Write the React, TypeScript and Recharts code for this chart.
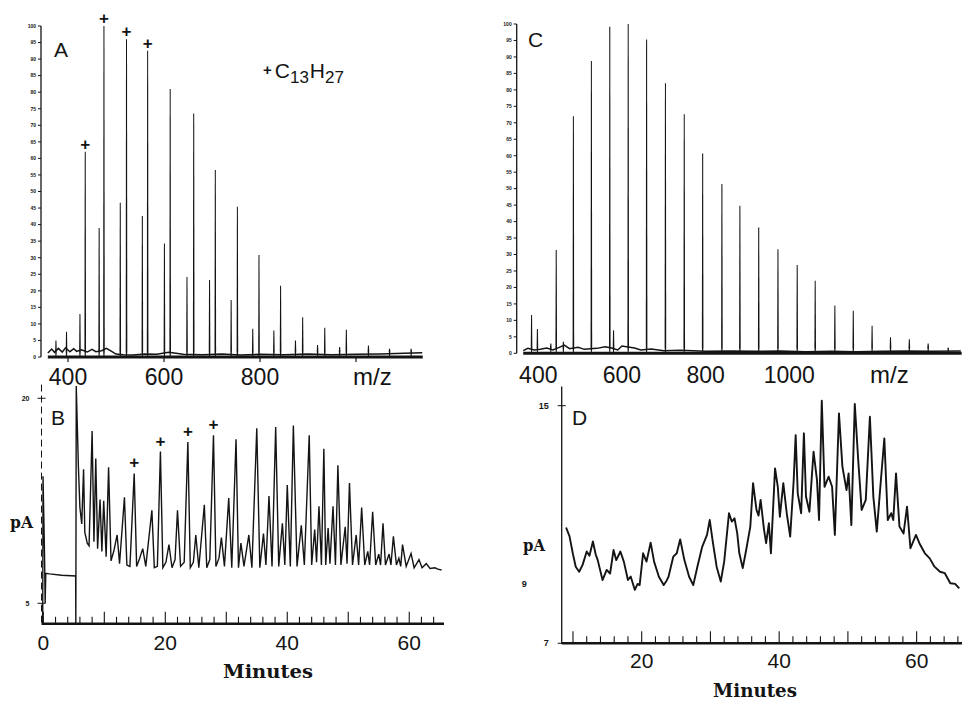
import React from "react";
import { ComposedChart, LineChart, Line, Bar, XAxis, YAxis, ReferenceLine, LabelList } from "recharts";

const INK = "#141414";
const SANS = "'Liberation Sans', Arial, sans-serif";
const SLAB = "'DejaVu Serif', serif";

// panel A: mass spectrum, m/z vs relative intensity (%)
const peaksAMz = [375, 397, 425, 436, 465, 475, 509, 522, 555, 566, 601, 613, 648, 662, 695, 707, 740, 753, 785, 798, 829, 843, 874, 889, 920, 935, 966, 980, 1026, 1070, 1115];
const peaksAInt = [5, 7.6, 13, 62, 39, 100, 46.6, 96, 42.6, 92.5, 34.3, 81, 24.2, 73.6, 23.3, 56.5, 17.2, 45.4, 8.5, 30.8, 8, 21.5, 5, 12, 3.6, 8.8, 3, 8.2, 3.5, 2.5, 2.5];
const markedAMz = [436, 475, 522, 566];
const noiseAMz = [358, 366, 372, 380, 388, 395, 404, 412, 418, 428, 440, 450, 458, 470, 480, 490, 500, 515, 535, 560, 585, 610, 640, 680, 720, 760, 800, 850, 900, 950, 1000, 1050, 1100, 1138];
const noiseAInt = [1.2, 2.4, 1.4, 2.6, 1.5, 2.8, 1.6, 2.5, 1.7, 2.2, 1.5, 2.3, 1.6, 1.9, 2.6, 1.8, 0.9, 0.7, 0.6, 0.9, 0.8, 1.4, 0.8, 0.7, 0.9, 0.6, 0.8, 0.7, 0.9, 0.7, 0.8, 0.9, 1.1, 1.3];

// panel C: mass spectrum
const peaksCMz = [384, 398, 430, 443, 460, 484, 527, 571, 580, 615, 659, 704, 749, 793, 839, 882, 927, 973, 1019, 1062, 1109, 1153, 1198, 1242, 1287, 1332, 1380];
const peaksCInt = [11.6, 7.4, 3, 31.4, 3.5, 72, 88.8, 99.2, 7, 100, 95.3, 82, 72.6, 60.7, 51.4, 44.8, 38.2, 31.6, 26.8, 22, 14.5, 12.9, 8.4, 4.9, 4.3, 3, 1.7];
const noiseCMz = [364, 375, 390, 405, 420, 435, 450, 462, 475, 495, 510, 540, 560, 575, 590, 600, 630, 645, 670, 700, 740, 800, 860, 920, 980, 1040, 1100, 1160, 1220, 1280, 1340, 1410];
const noiseCInt = [0.8, 1.5, 1.0, 1.2, 1.6, 1.0, 1.8, 2.5, 1.4, 1.8, 1.2, 1.5, 2.0, 1.6, 1.0, 2.2, 1.6, 1.0, 1.3, 0.8, 0.9, 0.6, 0.7, 0.6, 0.7, 0.5, 0.6, 0.5, 0.6, 0.7, 0.6, 0.7];

// panel B: chromatogram [minutes, pA]
const traceB: [number, number][] = [
  [-0.1, 3.55], [-0.05, 14.3], [0.2, 8.5], [0.3, 5.0], [0.4, 7.2], [1, 7.15], [3, 7.05], [5.3, 7.0], [5.33, 3.55],
  [5.4, 20.9], [5.75, 15], [6.0, 12.0], [6.3, 10.8], [6.6, 14.8], [6.8, 10.2], [7.2, 9.4], [7.5, 9.2], [8.0, 17.6],
  [8.3, 9.5], [8.6, 15.6], [8.9, 9.0], [9.3, 12.6], [9.6, 8.8], [9.9, 12.5], [10.3, 8.4], [10.7, 14.95], [11.1, 8.1],
  [11.6, 8.9], [12.1, 10.0], [12.5, 7.9], [13.3, 12.75], [13.7, 7.8], [14.2, 7.7], [14.9, 14.5], [15.3, 7.7],
  [15.8, 8.3], [16.3, 9.0], [16.8, 7.7], [17.8, 11.8], [18.2, 7.6], [18.7, 7.7], [19.2, 16.1], [19.6, 7.6],
  [20.1, 8.0], [20.6, 9.3], [21.1, 7.6], [21.6, 8.2], [22.0, 11.8], [22.5, 7.7], [23.1, 8.0], [23.7, 16.8],
  [24.1, 7.6], [24.6, 8.0], [25.0, 10.0], [25.5, 7.6], [26.4, 12.2], [26.8, 7.6], [27.3, 8.2], [27.9, 17.3],
  [28.3, 7.7], [28.8, 8.3], [29.2, 9.8], [29.7, 7.7], [30.4, 12.7], [30.9, 7.6], [31.6, 17.0], [32.0, 7.6],
  [32.4, 9.4], [32.9, 7.7], [33.7, 10.0], [34.2, 7.6], [35.0, 17.8], [35.5, 7.6], [36.1, 10.1], [36.5, 7.8],
  [37.0, 12.85], [37.5, 7.7], [38.1, 17.9], [38.6, 7.7], [39.2, 10.85], [39.6, 7.8], [40.0, 13.65], [40.5, 7.7],
  [41.0, 18.0], [41.6, 7.7], [42.3, 10.7], [42.8, 7.8], [43.6, 17.3], [44.0, 7.8], [44.5, 10.4], [44.8, 8.0],
  [45.2, 12.1], [45.6, 7.8], [46.0, 16.3], [46.3, 7.8], [46.7, 10.5], [47.0, 7.9], [47.5, 12.1], [47.9, 7.8],
  [48.3, 15.1], [48.8, 7.8], [49.5, 10.6], [49.8, 7.9], [50.2, 13.8], [50.7, 7.8], [51.3, 10.0], [51.7, 7.8],
  [52.2, 12.0], [52.7, 7.8], [53.2, 8.8], [53.5, 7.8], [54.0, 11.7], [54.5, 7.8], [55.0, 8.6], [55.3, 7.8],
  [55.7, 10.85], [56.1, 7.8], [56.7, 8.6], [57.0, 7.8], [57.4, 9.9], [57.9, 7.8], [58.3, 8.3], [58.6, 7.7],
  [58.9, 9.3], [59.5, 7.7], [60.3, 8.65], [60.8, 7.6], [61.6, 8.2], [62.1, 7.6], [62.8, 7.9], [63.4, 7.55],
  [64.2, 7.6], [64.7, 7.5], [65.3, 7.44],
];
const markedBMin = [14.9, 19.2, 23.7, 27.9];

// panel D: chromatogram [minutes, pA]
const traceD: [number, number][] = [
  [9.0, 10.9], [9.5, 10.6], [10.0, 10.0], [10.4, 9.58], [10.9, 9.41], [11.4, 9.64], [12.0, 10.09], [12.4, 9.95],
  [12.9, 10.43], [13.3, 10.0], [13.6, 9.8], [14.3, 9.13], [14.9, 9.47], [15.4, 9.35], [15.9, 10.14], [16.3, 9.8],
  [16.9, 10.09], [17.4, 9.75], [18.0, 9.13], [18.4, 9.25], [18.7, 9.02], [19.0, 8.8], [19.4, 9.0], [19.7, 8.96],
  [20.2, 10.03], [20.7, 9.75], [21.3, 10.39], [21.8, 9.75], [22.5, 9.24], [23.2, 8.96], [23.6, 9.1], [23.9, 9.24],
  [24.6, 9.92], [25.1, 10.03], [25.6, 10.5], [26.2, 9.81], [26.9, 9.24], [27.5, 8.96], [28.1, 9.58], [28.8, 10.25],
  [29.5, 10.65], [29.9, 11.15], [30.3, 10.48], [30.9, 9.58], [31.5, 9.08], [32.0, 9.75], [32.7, 11.38], [33.1, 11.1],
  [33.5, 11.21], [33.9, 10.7], [34.2, 10.03], [34.7, 9.53], [35.2, 10.14], [35.8, 10.93], [36.2, 12.39], [36.7, 11.49],
  [37.0, 11.3], [37.3, 11.83], [37.8, 10.82], [38.1, 10.37], [38.5, 11.04], [38.8, 10.03], [39.4, 12.89], [39.8, 12.27],
  [40.1, 11.26], [40.6, 12.39], [41.1, 11.38], [41.6, 10.59], [42.1, 12.44], [42.4, 14.01], [42.7, 12.05], [43.2, 11.38],
  [43.6, 14.07], [43.9, 11.94], [44.4, 11.43], [45.0, 13.45], [45.5, 12.5], [45.8, 11.15], [46.2, 15.17], [46.6, 12.27],
  [47.2, 12.61], [47.7, 12.27], [48.1, 10.65], [48.7, 14.74], [49.2, 12.95], [49.8, 12.16], [50.1, 12.72], [50.5, 10.98],
  [51.0, 15.06], [51.5, 13.17], [52.0, 11.49], [52.6, 11.83], [53.2, 14.63], [53.7, 11.94], [54.2, 10.76], [54.8, 12.5],
  [55.3, 13.9], [55.8, 11.15], [56.3, 11.38], [56.6, 11.15], [57.0, 12.72], [57.5, 10.93], [58.1, 10.7], [58.6, 11.6],
  [59.1, 10.2], [59.9, 10.65], [60.4, 10.37], [61.2, 10.03], [61.9, 9.86], [62.6, 9.58], [63.4, 9.41], [64.1, 9.36],
  [64.9, 9.02], [65.6, 9.0], [66.2, 8.85],
];

// axis ticks
const relTicks = [0, 5, 10, 15, 20, 25, 30, 35, 40, 45, 50, 55, 60, 65, 70, 75, 80, 85, 90, 95, 100];
const mzTicks = [400, 600, 800, 1000];
const mzLabelsA = [400, 600, 800];
const mzLabelsC = [400, 600, 800, 1000];
const minuteTicksB = [0, 2, 4, 6, 8, 10, 12, 14, 16, 18, 20, 22, 24, 26, 28, 30, 32, 34, 36, 38, 40, 42, 44, 46, 48, 50, 52, 54, 56, 58, 60, 62, 64];
const minuteTicksD = [10, 12, 14, 16, 18, 20, 22, 24, 26, 28, 30, 32, 34, 36, 38, 40, 42, 44, 46, 48, 50, 52, 54, 56, 58, 60, 62, 64, 66];
const minuteLabels = [0, 20, 40, 60];
const pATicksB = [5, 20];
const pATicksD = [7, 9, 15];

const spectrumA = peaksAMz.map((mz, i) => ({ mz, rel: peaksAInt[i], mark: markedAMz.includes(mz) ? "+" : "" }));
const noiseA = noiseAMz.map((mz, i) => ({ mz, rel: noiseAInt[i] }));
const spectrumC = peaksCMz.map((mz, i) => ({ mz, rel: peaksCInt[i] }));
const noiseC = noiseCMz.map((mz, i) => ({ mz, rel: noiseCInt[i] }));
const chromB = traceB.map(([min, pA]) => ({ min, pA, mark: markedBMin.includes(min) ? "+" : "" }));
const chromD = traceD.map(([min, pA]) => ({ min, pA }));

// axis widths are 1px so the margins set the plot box
const AX = 1;

function Spike(props: any) {
  const { x, y, width, height } = props;
  if (!height || height <= 0) return <g />;
  const cx = x + width / 2;
  const base = y + height;
  const foot = Math.min(6, height);
  const d = `M${cx - width / 2},${base} L${cx - 0.8},${base - foot} L${cx - 0.5},${y} L${cx + 0.5},${y} L${cx + 0.8},${base - foot} L${cx + width / 2},${base} Z`;
  return <path d={d} fill={INK} />;
}

function RelTick({ x, y, payload }: any) {
  return (
    <g>
      <line x1={x - 3} x2={x} y1={y} y2={y} stroke={INK} strokeWidth={1} />
      <text x={x - 5} y={y + 1.8} textAnchor="end" fontFamily={SANS} fontWeight={700} fontSize={5} fill={INK}>
        {payload.value}
      </text>
    </g>
  );
}

function MzTick({ x, y, payload, labels, tickLen, dy }: any) {
  return (
    <g>
      {tickLen > 0 && <line x1={x} x2={x} y1={y} y2={y + tickLen} stroke={INK} strokeWidth={1.2} />}
      {labels.includes(payload.value) && (
        <text x={x} y={y + dy} textAnchor="middle" fontFamily={SANS} fontSize={23} fill={INK}>
          {payload.value}
        </text>
      )}
    </g>
  );
}

function MinuteTick({ x, y, payload, dy }: any) {
  const v = payload.value;
  const major = v % 10 === 0;
  return (
    <g>
      <line x1={x} x2={x} y1={y} y2={y - (major ? 12 : 7)} stroke={INK} strokeWidth={1.1} />
      {minuteLabels.includes(v) && (
        <text x={x} y={y + dy} textAnchor="middle" fontFamily={SANS} fontSize={21} fill={INK}>
          {v}
        </text>
      )}
    </g>
  );
}

function PaTick({ x, y, payload, size, gap }: any) {
  const v = payload.value;
  const stray = v === 9;
  return (
    <g>
      {!stray && <line x1={x - 4} x2={x + 4} y1={y} y2={y} stroke={INK} strokeWidth={1} />}
      <text x={stray ? x - 35 : x - gap} y={y + size * 0.35} textAnchor="end" fontFamily={SANS} fontWeight={700} fontSize={size} fill={INK}>
        {v}
      </text>
    </g>
  );
}

export default function App() {
  return (
    <div style={{ position: "relative", width: 962, height: 701, background: "#fff", overflow: "hidden" }}>
      <style>{"body{margin:0}"}</style>

      {/* A */}
      <div style={{ position: "absolute", left: 0, top: 0 }}>
        <ComposedChart width={440} height={395} data={spectrumA} margin={{ top: 26, right: 17, bottom: 38 - AX, left: 41 - AX }}>
          <XAxis dataKey="mz" type="number" domain={[343.75, 1139.6]} ticks={mzTicks} interval={0} height={AX}
            tickSize={0} tickMargin={0} axisLine={false} tickLine={false}
            tick={(p: any) => <MzTick {...p} labels={mzLabelsA} tickLen={5} dy={28} />} />
          <YAxis type="number" domain={[0, 100]} ticks={relTicks} interval={0} width={AX} tickSize={0} tickMargin={0}
            axisLine={{ stroke: INK, strokeWidth: 1.3 }} tickLine={false} tick={RelTick} />
          <ReferenceLine segment={[{ x: 358, y: 0 }, { x: 1139, y: 0 }]} stroke={INK} strokeWidth={3} />
          <Bar dataKey="rel" barSize={4} shape={Spike} isAnimationActive={false}>
            <LabelList dataKey="mark" position="top" offset={2} fill={INK} fontSize={17} fontWeight={700} fontFamily={SANS} />
          </Bar>
          <Line data={noiseA} dataKey="rel" type="linear" stroke={INK} strokeWidth={1.5} dot={false} isAnimationActive={false} />
        </ComposedChart>
      </div>

      {/* C */}
      <div style={{ position: "absolute", left: 480, top: 0 }}>
        <ComposedChart width={482} height={395} data={spectrumC} margin={{ top: 24, right: 0, bottom: 41.7 - AX, left: 36.7 - AX }}>
          <XAxis dataKey="mz" type="number" domain={[348.4, 1412.8]} ticks={mzTicks} interval={0} height={AX}
            tickSize={0} tickMargin={0} axisLine={false} tickLine={false}
            tick={(p: any) => <MzTick {...p} labels={mzLabelsC} tickLen={0} dy={30} />} />
          <YAxis type="number" domain={[0, 100]} ticks={relTicks} interval={0} width={AX} tickSize={0} tickMargin={0}
            axisLine={{ stroke: INK, strokeWidth: 1.3 }} tickLine={false} tick={RelTick} />
          <ReferenceLine segment={[{ x: 364, y: 0 }, { x: 1412, y: 0 }]} stroke={INK} strokeWidth={3} />
          <Bar dataKey="rel" barSize={4} shape={Spike} isAnimationActive={false} />
          <Line data={noiseC} dataKey="rel" type="linear" stroke={INK} strokeWidth={1.5} dot={false} isAnimationActive={false} />
        </ComposedChart>
      </div>

      {/* B */}
      <div style={{ position: "absolute", left: 0, top: 380 }}>
        <LineChart width={460} height={321} data={chromB} margin={{ top: 4.6, right: 16, bottom: 77.2 - AX, left: 41.5 - AX }}>
          <XAxis dataKey="min" type="number" domain={[-0.3, 65.7]} ticks={minuteTicksB} interval={0} height={AX}
            tickSize={0} tickMargin={0} axisLine={{ stroke: INK, strokeWidth: 2.6 }} tickLine={false}
            tick={(p: any) => <MinuteTick {...p} dy={26} />} />
          <YAxis type="number" domain={[3.5, 21]} ticks={pATicksB} interval={0} width={AX} tickSize={0} tickMargin={0}
            axisLine={{ stroke: INK, strokeWidth: 1, strokeDasharray: "7 4" }} tickLine={false}
            tick={(p: any) => <PaTick {...p} size={7} gap={12} />} />
          <Line dataKey="pA" type="linear" stroke={INK} strokeWidth={1.4} dot={false} isAnimationActive={false}>
            <LabelList dataKey="mark" position="top" offset={5} fill={INK} fontSize={17} fontWeight={700} fontFamily={SANS} />
          </Line>
        </LineChart>
      </div>

      {/* D */}
      <div style={{ position: "absolute", left: 480, top: 380 }}>
        <LineChart width={482} height={321} data={chromD} margin={{ top: 6.4, right: 0, bottom: 57.7 - AX, left: 81.7 - AX }}>
          <XAxis dataKey="min" type="number" domain={[8.36, 66.6]} ticks={minuteTicksD} interval={0} height={AX}
            tickSize={0} tickMargin={0} axisLine={{ stroke: INK, strokeWidth: 2.6 }} tickLine={false}
            tick={(p: any) => <MinuteTick {...p} dy={25} />} />
          <YAxis type="number" domain={[7, 15.65]} ticks={pATicksD} interval={0} width={AX} tickSize={0} tickMargin={0}
            axisLine={{ stroke: INK, strokeWidth: 1.3 }} tickLine={false}
            tick={(p: any) => <PaTick {...p} size={9} gap={13} />} />
          <Line dataKey="pA" type="linear" stroke={INK} strokeWidth={1.9} strokeLinejoin="round" dot={false} isAnimationActive={false} />
        </LineChart>
      </div>

      {/* panel letters and axis titles */}
      <svg width={962} height={701} style={{ position: "absolute", left: 0, top: 0, pointerEvents: "none" }}>
        <g fill={INK} fontFamily={SANS}>
          <text x={54} y={57} fontSize={21}>A</text>
          <text x={528} y={47} fontSize={21}>C</text>
          <text x={51} y={425} fontSize={21}>B</text>
          <text x={572} y={425} fontSize={21}>D</text>
          <text x={263} y={78} fontSize={21}>
            <tspan fontSize={15} fontWeight={700} dy={-3.5}>+</tspan>
            <tspan dx={3} dy={3.5}>C</tspan>
            <tspan fontSize={17} dy={5}>13</tspan>
            <tspan dx={1} dy={-5}>H</tspan>
            <tspan fontSize={17} dy={5}>27</tspan>
          </text>
          <text x={353} y={385} fontSize={24}>m/z</text>
          <text x={870} y={383} fontSize={24}>m/z</text>
        </g>
        <g fill={INK} fontFamily={SLAB} fontWeight={700}>
          <text x={10} y={528} fontSize={17} textLength={23} lengthAdjust="spacingAndGlyphs">pA</text>
          <text x={523} y={551} fontSize={17} textLength={22} lengthAdjust="spacingAndGlyphs">pA</text>
          <text x={223} y={678} fontSize={18} textLength={90} lengthAdjust="spacingAndGlyphs">Minutes</text>
          <text x={713} y={697} fontSize={18} textLength={84} lengthAdjust="spacingAndGlyphs">Minutes</text>
        </g>
      </svg>
    </div>
  );
}
